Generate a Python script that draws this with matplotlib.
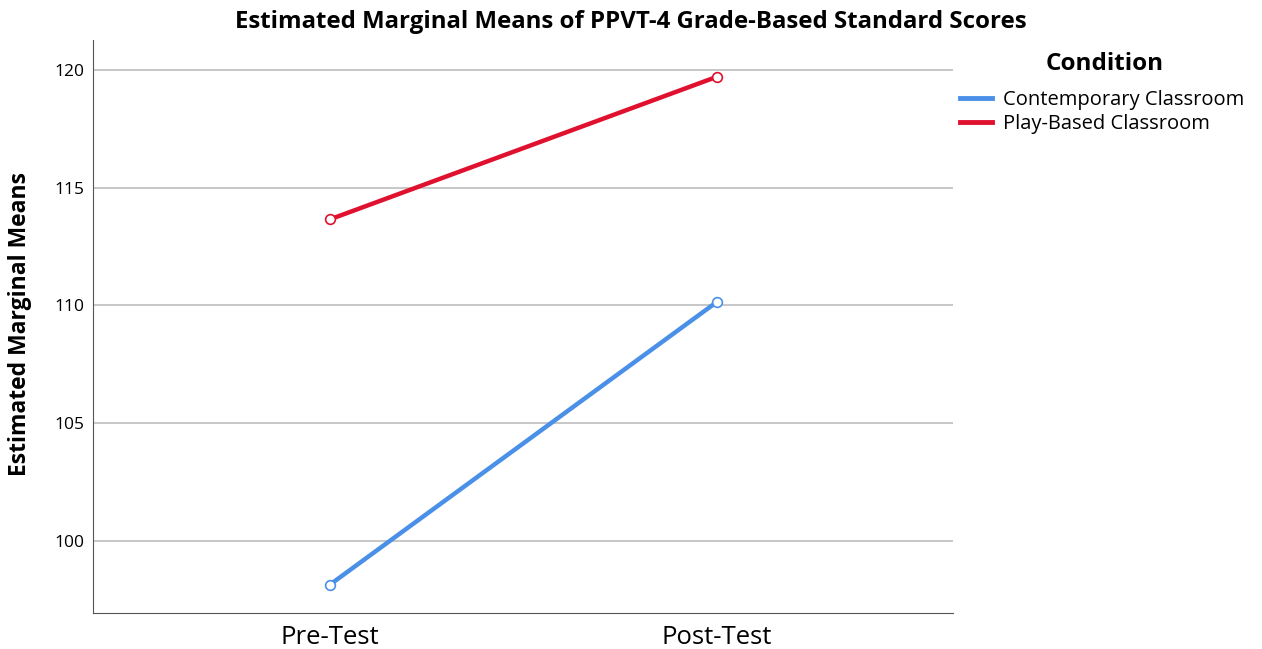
import matplotlib
matplotlib.use('Agg')
import matplotlib.pyplot as plt
import numpy as np

# data
times = ['Pre-Test', 'Post-Test']
contemporary = [98.15, 110.15]
play_based = [113.65, 119.7]
series_names = ['Contemporary Classroom', 'Play-Based Classroom']
yticks = [100, 105, 110, 115, 120]

plt.rcParams['font.family'] = ['Open Sans', 'DejaVu Sans']

fig = plt.figure(figsize=(12.62, 6.49), dpi=100)
ax = fig.add_axes([0.0737, 0.0555, 0.6815, 0.8825])

x = np.arange(len(times))
colors = ['#4a90e8', '#e0102f']
for vals, name, c in zip([contemporary, play_based], series_names, colors):
    ax.plot(x, vals, '-', color=c, lw=3.2, label=name, zorder=3)
    ax.plot(x, vals, 'o', mfc='white', mec=c, ms=7, mew=1.2, zorder=4)

ax.set_xlim(-0.612, 1.61)
ax.set_ylim(96.95, 121.25)
ax.set_xticks(x)
ax.set_xticklabels(times, fontsize=18.5)
ax.set_yticks(yticks)
ax.set_yticklabels([str(t) for t in yticks], fontsize=12.5)
ax.tick_params(axis='both', length=0)
ax.tick_params(axis='x', pad=9)
ax.tick_params(axis='y', pad=6)
ax.grid(axis='y', color='#bdbdbd', lw=1.2, zorder=0)
ax.spines['top'].set_visible(False)
ax.spines['right'].set_visible(False)
ax.spines['left'].set_color('#555555')
ax.spines['bottom'].set_color('#555555')

fig.text(0.016, 0.50, 'Estimated Marginal Means', rotation=90, fontsize=16.5,
         fontweight='bold', ha='center', va='center')
fig.suptitle('Estimated Marginal Means of PPVT-4 Grade-Based Standard Scores',
             fontsize=17.3, fontweight='bold', x=0.5, y=0.966, va='center')

# legend: title placed separately to get the wider gap
fig.text(0.875, 0.902, 'Condition', fontsize=17.5, fontweight='bold',
         ha='center', va='center')
handles = [plt.Line2D([], [], color=c, lw=3.5) for c in colors]
fig.legend(handles, series_names, loc='upper left',
           bbox_to_anchor=(0.7607, 0.862), frameon=False, fontsize=14.5,
           handlelength=1.6, handletextpad=0.55, labelspacing=0.2,
           borderpad=0, borderaxespad=0)

plt.savefig('out.png', dpi=100)
